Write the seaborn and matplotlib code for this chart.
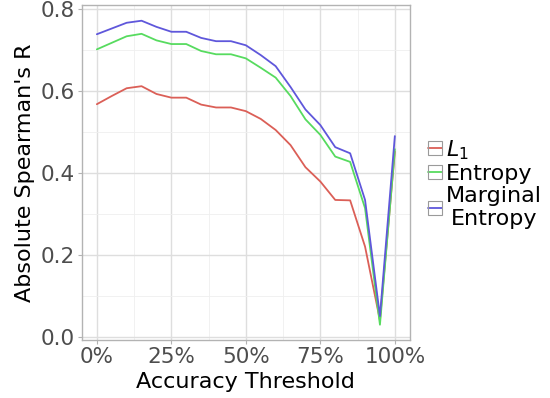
import numpy as np
import pandas as pd
import seaborn as sns
import matplotlib.pyplot as plt
from matplotlib.lines import Line2D
from matplotlib.ticker import FuncFormatter

# Accuracy thresholds (0% .. 100% in 5% steps)
thresholds = [0.00, 0.05, 0.10, 0.15, 0.20, 0.25, 0.30, 0.35, 0.40, 0.45, 0.50,
              0.55, 0.60, 0.65, 0.70, 0.75, 0.80, 0.85, 0.90, 0.95, 1.00]

l1 = [0.568, 0.588, 0.607, 0.612, 0.593, 0.584, 0.584, 0.567, 0.560, 0.560, 0.551,
      0.532, 0.505, 0.468, 0.414, 0.379, 0.334, 0.333, 0.220, 0.040, 0.452]
entropy = [0.702, 0.718, 0.734, 0.740, 0.724, 0.715, 0.715, 0.698, 0.690, 0.690, 0.680,
           0.657, 0.633, 0.588, 0.531, 0.493, 0.440, 0.427, 0.314, 0.029, 0.458]
marginal_entropy = [0.739, 0.753, 0.767, 0.772, 0.757, 0.745, 0.745, 0.730, 0.722, 0.722, 0.712,
                    0.688, 0.661, 0.610, 0.555, 0.517, 0.463, 0.448, 0.334, 0.050, 0.490]

methods = ['L1', 'Entropy', 'Marginal Entropy']
labels = ['$L_1$', 'Entropy', 'Marginal\nEntropy']

df = pd.DataFrame({
    'threshold': thresholds * 3,
    'r': l1 + entropy + marginal_entropy,
    'method': np.repeat(methods, len(thresholds)),
})

sns.set_style('whitegrid')
plt.rcParams['font.family'] = ['DejaVu Sans']

colors = sns.color_palette('hls', 3)

fig = plt.figure(figsize=(5.5, 3.98), dpi=100)
ax = fig.add_axes([0.149, 0.146, 0.596, 0.841])

sns.lineplot(data=df, x='threshold', y='r', hue='method', hue_order=methods,
             palette=colors, linewidth=1.3, ax=ax, legend=False)

ax.set_xlim(-0.05, 1.05)
ax.set_ylim(-0.008, 0.81)
ax.set_xticks([0, 0.25, 0.5, 0.75, 1.0])
ax.set_xticks([0.125, 0.375, 0.625, 0.875], minor=True)
ax.set_yticks([0.0, 0.2, 0.4, 0.6, 0.8])
ax.set_yticks([0.1, 0.3, 0.5, 0.7], minor=True)
ax.xaxis.set_major_formatter(FuncFormatter(lambda v, p: f'{v*100:.0f}%'))
ax.yaxis.set_major_formatter(FuncFormatter(lambda v, p: f'{v:.1f}'))

ax.grid(which='major', color='#DEDEDE', linewidth=1.0)
ax.grid(which='minor', color='#EFEFEF', linewidth=0.6)
ax.set_axisbelow(True)
for s in ax.spines.values():
    s.set_color('#B3B3B3')
    s.set_linewidth(1.0)

ax.tick_params(axis='both', which='major', labelsize=15.5, labelcolor='#4D4D4D',
               color='#B3B3B3', length=3, width=0.8, pad=2, direction='out',
               bottom=True, left=True)
ax.tick_params(which='minor', length=0)

ax.set_xlabel('Accuracy Threshold', fontsize=16, color='black', labelpad=4)
ax.set_ylabel("Absolute Spearman's R", fontsize=16, color='black', labelpad=4)

# legend keys: grey-bordered square with the coloured line through it
handles = [Line2D([0], [0], color=c, linewidth=1.3, marker='s', markersize=10.5,
                  markerfacecolor='none', markeredgecolor='#9A9A9A',
                  markeredgewidth=0.8) for c in colors]

leg = fig.legend(handles, labels, loc='center left', bbox_to_anchor=(0.762, 0.538),
                 borderaxespad=0, frameon=False, fontsize=16, handlelength=0.65,
                 numpoints=1, handletextpad=0.15, labelspacing=0.1)
for t in leg.get_texts():
    t.set_multialignment('center')
    t.set_color('black')

fig.savefig('out.png', dpi=100)
